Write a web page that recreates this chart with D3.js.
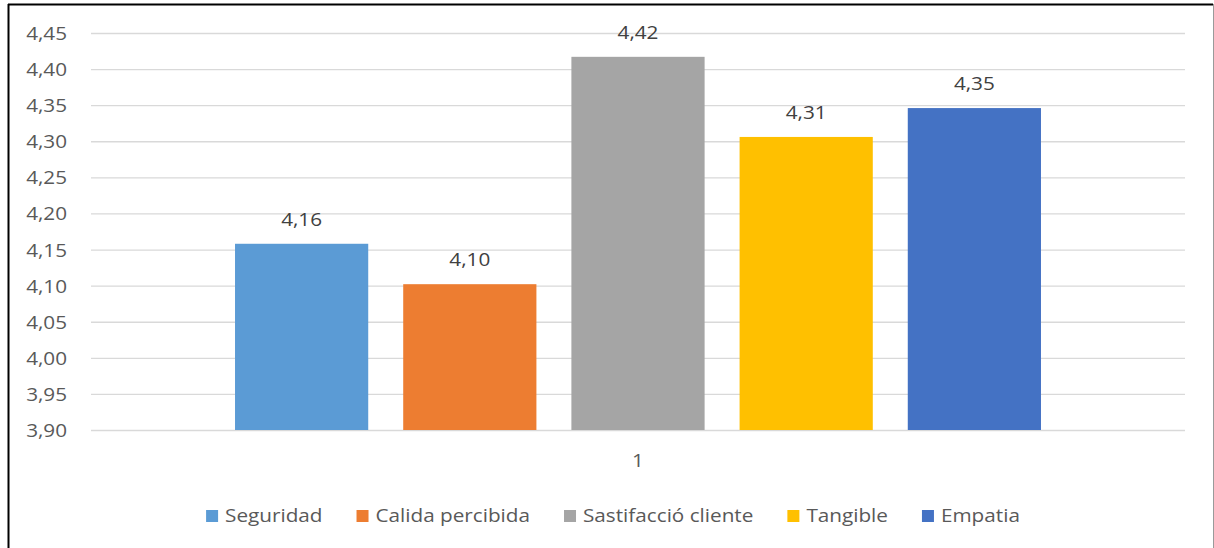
<!DOCTYPE html>
<html>
<head>
<meta charset="utf-8">
<script src="https://cdn.jsdelivr.net/npm/d3@7/dist/d3.min.js"></script>
<style>
  html, body { margin: 0; padding: 0; background: #fff; }
  svg { display: block; }
</style>
</head>
<body>
<div id="chart"></div>
<script>
// data
const categories = ["1"];
const seriesNames = ["Seguridad", "Calida percibida", "Sastifacció cliente", "Tangible", "Empatia"];
const seriesValues = [4.158, 4.102, 4.417, 4.306, 4.346];
const seriesColors = ["#5b9bd5", "#ed7d31", "#a5a5a5", "#ffc000", "#4472c4"];
const yTicks = [3.90, 3.95, 4.00, 4.05, 4.10, 4.15, 4.20, 4.25, 4.30, 4.35, 4.40, 4.45];

const width = 1214, height = 548;
const font = "'Open Sans', 'DejaVu Sans', sans-serif";
const stretch = 1.15; // reference text is a bit wide

const svg = d3.select("#chart").append("svg")
    .attr("width", width)
    .attr("height", height)
    .style("background", "#fff");

// chart frame (bottom is cut off in the reference)
svg.append("line").attr("x1", 8.5).attr("x2", 8.5).attr("y1", 4).attr("y2", height)
    .attr("stroke", "#000").attr("stroke-width", 2);
svg.append("line").attr("x1", 8).attr("x2", 1213).attr("y1", 4.5).attr("y2", 4.5)
    .attr("stroke", "#000").attr("stroke-width", 2);
svg.append("line").attr("x1", 1213.5).attr("x2", 1213.5).attr("y1", 4).attr("y2", height)
    .attr("stroke", "#9a9a9a").attr("stroke-width", 1);

const plot = { left: 91, right: 1185, top: 33, bottom: 430 };

const y = d3.scaleLinear().domain([3.9, 4.45]).range([plot.bottom, plot.top]);
const x0 = d3.scaleBand().domain(categories).range([plot.left, plot.right])
    .paddingInner(0).paddingOuter(0.1787);
const x1 = d3.scaleBand().domain(seriesNames).range([0, x0.bandwidth()])
    .paddingInner(0.208).paddingOuter(0);

function widen(sel) {
    sel.each(function () {
        const len = this.getComputedTextLength();
        d3.select(this).attr("textLength", len * stretch).attr("lengthAdjust", "spacingAndGlyphs");
    });
}

// gridlines + y axis labels
const yAxis = d3.axisLeft(y).tickValues(yTicks)
    .tickSize(-(plot.right - plot.left))
    .tickPadding(24)
    .tickFormat(d => d3.format(".2f")(d).replace(".", ","));

svg.append("g")
    .attr("transform", `translate(${plot.left},0)`)
    .call(yAxis)
    .call(g => {
        g.select(".domain").remove();
        g.selectAll(".tick line").attr("stroke", "#d9d9d9").attr("stroke-width", 1.3);
        g.selectAll(".tick text")
            .attr("fill", "#595959")
            .attr("dy", "0.36em")
            .style("font-family", font)
            .style("font-size", "18px")
            .call(widen);
    });

// bars
const group = svg.append("g").selectAll("g")
    .data(categories)
    .join("g")
    .attr("transform", d => `translate(${x0(d)},0)`);

const rows = seriesNames.map((name, i) => ({ name, value: seriesValues[i], color: seriesColors[i] }));

group.selectAll("rect")
    .data(rows)
    .join("rect")
    .attr("x", d => x1(d.name))
    .attr("y", d => y(d.value))
    .attr("width", x1.bandwidth())
    .attr("height", d => y(3.9) - y(d.value))
    .attr("fill", d => d.color);

// data labels
group.selectAll("text.value")
    .data(rows)
    .join("text")
    .attr("class", "value")
    .attr("x", d => x1(d.name) + x1.bandwidth() / 2)
    .attr("y", d => y(d.value) - 18)
    .attr("text-anchor", "middle")
    .attr("fill", "#404040")
    .style("font-family", font)
    .style("font-size", "18px")
    .text(d => d3.format(".2f")(d.value).replace(".", ","))
    .call(widen);

// category axis label
const xAxis = d3.axisBottom(x0).tickSize(0).tickPadding(24);
svg.append("g")
    .attr("transform", `translate(0,${plot.bottom})`)
    .call(xAxis)
    .call(g => {
        g.select(".domain").remove();
        g.selectAll(".tick text")
            .attr("fill", "#595959")
            .style("font-family", font)
            .style("font-size", "18px")
            .call(widen);
    });

// legend
const legend = svg.append("g").attr("transform", "translate(0,516)");
const items = legend.selectAll("g")
    .data(rows)
    .join("g");

items.append("rect")
    .attr("width", 12).attr("height", 12)
    .attr("y", -6)
    .attr("fill", d => d.color);

items.append("text")
    .attr("x", 19)
    .attr("dy", "0.36em")
    .attr("fill", "#595959")
    .style("font-family", font)
    .style("font-size", "18px")
    .text(d => d.name)
    .call(widen);

let cursor = 0;
const offsets = [];
items.each(function () {
    const t = d3.select(this).select("text").node();
    const w = 19 + (+t.getAttribute("textLength"));
    offsets.push(cursor);
    cursor += w + 34;
});
const total = cursor - 34;
const startX = 613 - total / 2;
items.attr("transform", (d, i) => `translate(${startX + offsets[i]},0)`);
</script>
</body>
</html>
